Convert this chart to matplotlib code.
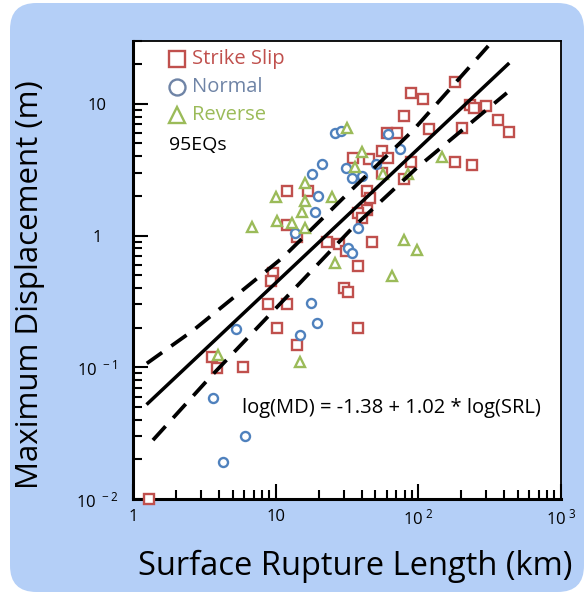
import matplotlib
matplotlib.use("Agg")
import matplotlib.pyplot as plt
import numpy as np
from matplotlib.patches import FancyBboxPatch
from matplotlib.ticker import FixedLocator, LogLocator, NullFormatter

plt.rcParams["font.family"] = ["Open Sans", "DejaVu Sans"]
plt.rcParams["mathtext.fontset"] = "custom"
plt.rcParams["mathtext.rm"] = "Open Sans"

# surface rupture length (km) and maximum displacement (m)
strike_srl = [180, 89, 108, 79, 230, 245, 298, 361, 431, 119,
              202, 60, 71, 56, 35, 45, 89, 180, 238, 56,
              79, 61, 44, 46, 44, 38, 40, 12.0, 16.8, 12.0,
              14.1, 23, 28, 31, 47, 38, 9.6, 9.3, 30, 32,
              8.8, 12.0, 10.2, 38, 14.1, 3.6, 3.9, 5.9, 1.29]
strike_md = [14.7, 12.1, 10.9, 8.1, 9.8, 9.3, 9.7, 7.6, 6.1, 6.4,
             6.6, 6.0, 6.0, 4.4, 3.9, 3.8, 3.6, 3.6, 3.45, 3.0,
             2.7, 3.9, 2.19, 1.94, 1.55, 1.49, 1.35, 2.19, 2.19, 1.21,
             0.98, 0.90, 0.87, 0.76, 0.90, 0.59, 0.52, 0.45, 0.40, 0.37,
             0.30, 0.30, 0.197, 0.197, 0.147, 0.119, 0.098, 0.10, 0.01]

normal_srl = [26.0, 28.7, 21.1, 18.0, 31.1, 34.3, 40.3, 50.5, 74.3, 61.2,
              19.8, 18.8, 37.7, 32.1, 34.3, 17.7, 19.5, 14.8, 5.27, 3.64,
              6.1, 4.27, 13.7]
normal_md = [6.0, 6.2, 3.5, 2.95, 3.27, 2.75, 2.85, 3.5, 4.56, 5.9,
             2.0, 1.52, 1.15, 0.81, 0.74, 0.31, 0.215, 0.175, 0.194, 0.058,
             0.030, 0.019, 1.05]

reverse_srl = [31.6, 40.3, 35.9, 56.5, 16.0, 10.0, 16.0, 24.8, 15.3, 6.8,
               10.2, 13.0, 16.0, 26.0, 79.3, 97.8, 65.3, 146, 3.94, 14.8,
               84.5]
reverse_md = [6.5, 4.3, 3.33, 2.95, 2.52, 1.97, 1.84, 1.97, 1.52, 1.17,
              1.28, 1.25, 1.15, 0.62, 0.93, 0.78, 0.49, 3.96, 0.123, 0.109,
              2.95]

# regression log(MD) = a + b * log(SRL)
fit_a = -1.38
fit_b = 1.02
fit_srl = [1.27, 425]

# confidence band
upper_srl = [1.25, 2.63, 11.2, 34.7, 91.2, 309]
upper_md = [0.107, 0.19, 0.68, 2.27, 6.24, 27.5]
lower_srl = [1.38, 3.47, 34.7, 97.7, 417]
lower_md = [0.028, 0.084, 1.15, 3.27, 12.1]

red = "#c0504d"
blue = "#4f81bd"
green = "#9bbb59"

fig = plt.figure(figsize=(5.86, 5.95), dpi=100)
fig.patch.set_facecolor("white")
bg = FancyBboxPatch((10 / 586, 3 / 595), 574 / 586, 589 / 595,
                    boxstyle="round,pad=0,rounding_size=0.045",
                    mutation_aspect=586 / 595,
                    transform=fig.transFigure, facecolor="#b4cff7",
                    edgecolor="none", zorder=0)
fig.add_artist(bg)

ax = fig.add_axes([133 / 586, 1 - 499 / 595, 428 / 586, 458 / 595])
ax.set_facecolor("white")
ax.set_xscale("log")
ax.set_yscale("log")
ax.set_xlim(1, 1000)
ax.set_ylim(0.01, 30)

mk = dict(ls="none", mfc="white", mew=1.7, ms=6.5, zorder=3, clip_on=False)
ax.plot(strike_srl, strike_md, marker="s", mec=red, **mk)
ax.plot(normal_srl, normal_md, marker="o", mec=blue, **mk)
ax.plot(reverse_srl, reverse_md, marker="^", mec=green, **mk)

fit_x = np.array(fit_srl)
fit_y = 10 ** (fit_a + fit_b * np.log10(fit_x))
ax.plot(fit_x, fit_y, color="black", lw=2.5, zorder=4)
ax.plot(upper_srl, upper_md, color="black", lw=2.7, ls=(0, (5, 3)), zorder=4)
ax.plot(lower_srl, lower_md, color="black", lw=2.7, ls=(0, (5, 3)), zorder=4)

# legend drawn by hand
rows = [("s", red, "Strike Slip", 0.961), ("o", "#6f84a6", "Normal", 0.900),
        ("^", green, "Reverse", 0.838)]
for m, c, lab, yy in rows:
    ax.plot([0.103], [yy], transform=ax.transAxes, marker=m, ls="none",
            mfc="none", mec=c, mew=1.7, ms=11.5, clip_on=False, zorder=5)
    ax.text(0.138, yy, lab, transform=ax.transAxes, color=c, fontsize=14.5,
            va="center", ha="left")
ax.text(0.085, 0.773, "95EQs", transform=ax.transAxes, color="black",
        fontsize=14, va="center", ha="left")

ax.text(0.255, 0.199, "log(MD) = -1.38 + 1.02 * log(SRL)", transform=ax.transAxes,
        fontsize=14.5, va="center", ha="left")

# ticks
ax.xaxis.set_major_locator(FixedLocator([1, 10, 100, 1000]))
ax.set_xticklabels(["1", "10", r"$\mathregular{10^{\ 2}}$", r"$\mathregular{10^{\ 3}}$"])
ax.yaxis.set_major_locator(FixedLocator([0.01, 0.1, 1, 10]))
ax.set_yticklabels([r"$\mathregular{10^{\ -2}}$", r"$\mathregular{10^{\ -1}}$", "1", "10"])
ax.xaxis.set_minor_locator(LogLocator(subs=np.arange(2, 10)))
ax.yaxis.set_minor_locator(LogLocator(subs=np.arange(2, 10)))
ax.xaxis.set_minor_formatter(NullFormatter())
ax.yaxis.set_minor_formatter(NullFormatter())
ax.tick_params(which="both", direction="in", top=False, right=False, width=1.5)
ax.tick_params(which="major", length=11, labelsize=12)
ax.tick_params(which="minor", length=6.5)
ax.tick_params(axis="x", which="major", pad=7)
ax.tick_params(axis="y", which="major", pad=26)
for lbl in ax.get_yticklabels():
    lbl.set_ha("center")

ax.spines["left"].set_linewidth(2.2)
ax.spines["bottom"].set_linewidth(2.2)
ax.spines["top"].set_linewidth(1.3)
ax.spines["right"].set_linewidth(1.3)

fig.text(30 / 586, 0.522, "Maximum Displacement (m)", rotation=90,
         ha="center", va="center", fontsize=22.5)
fig.text(355 / 586, 1 - 566 / 595, "Surface Rupture Length (km)",
         ha="center", va="center", fontsize=23.5)

fig.savefig("out.png", dpi=100)
